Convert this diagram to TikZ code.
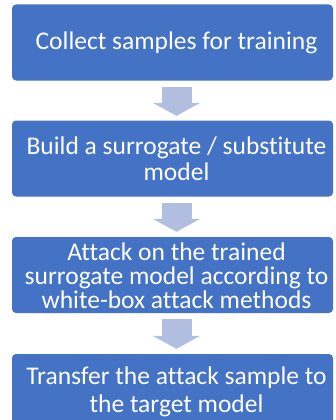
\documentclass[tikz,border=0pt]{standalone}
\usepackage{fontspec}
\setmainfont[Ligatures=NoCommon]{Carlito}
\usetikzlibrary{arrows.meta,calc}
\definecolor{boxblue}{HTML}{4472C4}
\definecolor{arrowblue}{HTML}{B1BEE0}
\begin{document}
\begin{tikzpicture}[x=1pt,y=-1pt,
  stepbox/.style={fill=boxblue, rounded corners=4pt, minimum width=321pt,
    minimum height=76pt, inner sep=0pt},
  steptext/.style={inner sep=0pt, text=white, align=center,
    font=\fontsize{25.5}{#1}\selectfont},
  steptext/.default=27,
  flow/.style={arrowblue, line width=30pt,
    -{Triangle[width=47pt,length=13pt]}}]
\useasboundingbox (0,0) rectangle (335,420);
\clip (0,0) rectangle (335,420);

% the four steps
\node[stepbox] (collect)  at (172.5,42.5) {};
\node[stepbox] (build)    at (172.5,158.5) {};
\node[stepbox] (attack)   at (172.5,275) {};
\node[stepbox] (transfer) at (172.5,392) {};

\node[steptext] (collect-t) at ($(collect.center)+(4,0)$) {Collect samples for training};
\node[steptext=26.5] (build-t) at ($(build.center)+(4,0)$) {Build a surrogate / substitute\\model};
\node[steptext=24] (attack-t) at ($(attack.center)+(4,1)$) {Attack on the trained\\surrogate model according to\\white-box attack methods};
\node[steptext=28] (transfer-t) at ($(transfer.center)+(4,0)$) {Transfer the attack sample to\\the target model};

% block arrows between steps
\draw[flow] ($(collect.south)+(4,6)$) -- ($(build.north)+(4,-4.5)$);
\draw[flow] ($(build.south)+(4,6)$) -- ($(attack.north)+(4,-5)$);
\draw[flow] ($(attack.south)+(4,6)$) -- ($(transfer.north)+(4,-5)$);
\end{tikzpicture}
\end{document}
